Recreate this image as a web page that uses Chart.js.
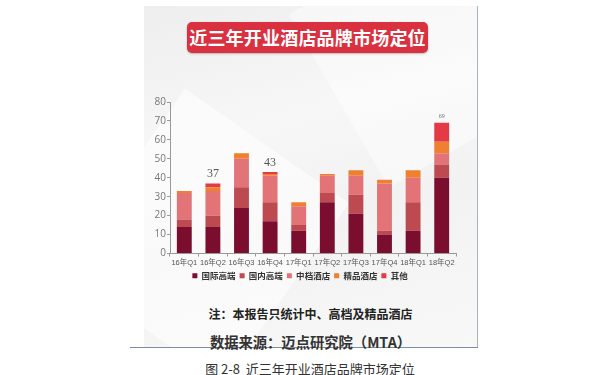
<!DOCTYPE html>
<html>
<head>
<meta charset="utf-8">
<script src="https://cdn.jsdelivr.net/npm/chart.js@4.4.0/dist/chart.umd.min.js"></script>
<style>
  html, body { margin: 0; padding: 0; background: #fff; }
  body { width: 603px; height: 375px; position: relative; overflow: hidden; font-family: "Noto Sans CJK SC", sans-serif; }
  #card {
    position: absolute; left: 144px; top: 6px; width: 333px; height: 341px;
    background: linear-gradient(165deg, #eeeeee 0%, #f7f7f7 35%, #f2f2f2 60%, #f8f8f8 100%);
    overflow: hidden;
  }
  .facet { position: absolute; background: rgba(255,255,255,0.55); }
  #rightLine { position: absolute; left: 477px; top: 6px; width: 1px; height: 342px; background: #a9b4c2; }
  #bottomLine { position: absolute; left: 130px; top: 347px; width: 348px; height: 1px; background: #7d8ea3; }
  #banner {
    position: absolute; left: 187px; top: 22px; width: 241px; height: 31px;
    background: #d9313f; border-radius: 5px; box-shadow: 0 1px 2px rgba(0,0,0,0.25);
    color: #fff; font-weight: 700; font-size: 18px; line-height: 31px; text-align: center; letter-spacing: 0.2px;
  }
  #wrap { position: absolute; left: 144px; top: 90px; width: 333px; height: 200px; }
  .txt { position: absolute; left: 144px; width: 333px; text-align: center; font-weight: 700; white-space: nowrap; }
  #note { top: 305px; font-size: 12px; line-height: 18px; color: #222; }
  #source { top: 332px; font-size: 14.3px; line-height: 20px; color: #333; }
  #caption { position: absolute; left: 130px; width: 360px; top: 360px; text-align: center; font-size: 13px; line-height: 18px; color: #333; white-space: nowrap; }
</style>
</head>
<body>
<div id="card">
  <div class="facet" style="left:-40px; top:120px; width:200px; height:220px; transform: rotate(35deg);"></div>
  <div class="facet" style="left:180px; top:-60px; width:220px; height:200px; transform: rotate(-30deg); background: rgba(255,255,255,0.45);"></div>
</div>
<div id="rightLine"></div>
<div id="bottomLine"></div>
<div id="banner">近三年开业酒店品牌市场定位</div>
<div id="wrap"><canvas id="chart" width="333" height="200"></canvas></div>
<div class="txt" id="note">注：本报告只统计中、高档及精品酒店</div>
<div class="txt" id="source">数据来源：迈点研究院（MTA）</div>
<div id="caption">图 2-8&nbsp;&nbsp;近三年开业酒店品牌市场定位</div>

<script>
// 数据
const categories = ['16年Q1', '16年Q2', '16年Q3', '16年Q4', '17年Q1', '17年Q2', '17年Q3', '17年Q4', '18年Q1', '18年Q2'];
const intlHigh = [14, 14, 24, 17, 12, 27, 21, 10, 12, 40];
const domHigh = [4, 6, 11, 10, 3, 5, 10, 2, 15, 7];
const midRange = [14, 13, 15, 14, 10, 9, 10, 25, 13, 6];
const boutique = [1, 2, 3, 1, 2, 1, 3, 2, 4, 6];
const others = [0, 2, 0, 1, 0, 0, 0, 0, 0, 10];
const totalLabels = [null, '37', null, '43', null, null, null, null, null, '69'];
const yTicks = [0, 10, 20, 30, 40, 50, 60, 70, 80];

const seriesNames = ['国际高端', '国内高端', '中档酒店', '精品酒店', '其他'];
const seriesData = [intlHigh, domHigh, midRange, boutique, others];
const seriesColors = ['#7b0d2f', '#bc4a50', '#e27478', '#ef8030', '#e33a46'];

// Totaux au-dessus de certaines barres
const totalsPlugin = {
    id: 'totals',
    afterDatasetsDraw(chart) {
        const { ctx, scales } = chart;
        ctx.save();
        ctx.textAlign = 'center';
        ctx.textBaseline = 'middle';
        totalLabels.forEach((lab, i) => {
            if (!lab) return;
            const total = seriesData.reduce((s, arr) => s + arr[i], 0);
            const x = scales.x.getPixelForValue(i);
            const y = scales.y.getPixelForValue(total);
            const small = i === 9;
            ctx.fillStyle = small ? '#777' : '#555';
            ctx.font = (small ? '6px' : '12px') + ' "Liberation Serif", serif';
            ctx.fillText(lab, x, y - (small ? 6 : 9.5));
        });
        ctx.restore();
    }
};

const ctx = document.getElementById('chart').getContext('2d');
new Chart(ctx, {
    type: 'bar',
    data: {
        labels: categories,
        datasets: seriesNames.map((name, k) => ({
            label: name,
            data: seriesData[k],
            backgroundColor: seriesColors[k],
            borderWidth: 0,
            barPercentage: 0.52,
            categoryPercentage: 1,
        })),
    },
    options: {
        responsive: false,
        animation: false,
        layout: { padding: { top: 12, right: 21, left: 0, bottom: 0 } },
        scales: {
            x: {
                stacked: true,
                grid: { drawOnChartArea: false, drawTicks: true, tickLength: 3, color: '#999', offset: true },
                border: { display: true, color: '#999' },
                ticks: { color: '#555', padding: 2, maxRotation: 0, autoSkip: false, font: { size: 7.5, family: '"Liberation Sans", "Noto Sans CJK SC", sans-serif' } },
                afterFit: (s) => { s.height = 14; },
            },
            y: {
                stacked: true,
                min: 0,
                max: 80,
                afterBuildTicks: (s) => { s.ticks = yTicks.map((v) => ({ value: v })); },
                grid: { drawOnChartArea: false, drawTicks: true, tickLength: 3, color: '#999' },
                border: { display: true, color: '#999' },
                ticks: { color: '#777', padding: 1, font: { size: 10, family: '"Open Sans", sans-serif' } },
                afterFit: (s) => { s.width = 26; },
            },
        },
        plugins: {
            legend: {
                position: 'bottom',
                labels: {
                    boxWidth: 5,
                    boxHeight: 5,
                    padding: 4,
                    color: '#333',
                    font: { size: 8.5, weight: 'bold', family: '"Noto Sans CJK SC", sans-serif' },
                },
            },
            tooltip: { enabled: false },
        },
    },
    plugins: [totalsPlugin],
});
</script>
</body>
</html>
